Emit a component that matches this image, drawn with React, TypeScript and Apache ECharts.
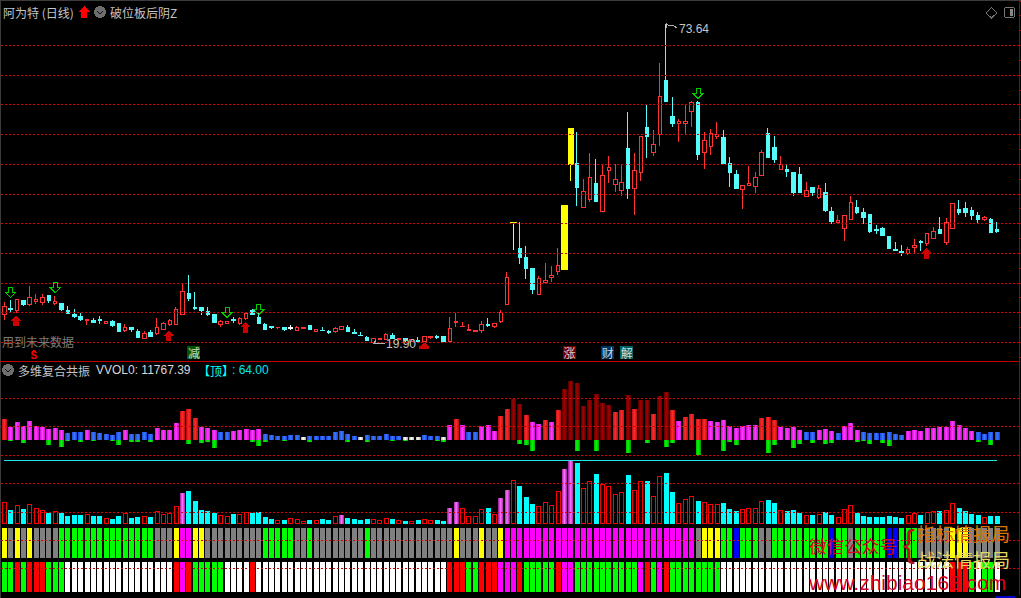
import React, { useEffect, useRef } from "react";
import * as echarts from "echarts";

const BAR_COUNT = 157;
const SLOT_COUNT = 160;
const categories = Array.from({ length: SLOT_COUNT }, (_, i) => String(i + 1));

const opens = [
  24.66,25.72,25.33,26.96,26.29,26.79,26.68,27.86,26.45,26.57,
  25.28,24.60,24.27,23.70,23.59,23.82,23.20,23.42,23.20,21.96,
  22.53,21.74,20.62,21.57,21.52,22.19,23.03,23.03,24.71,28.25,
  25.78,25.78,25.11,24.60,22.97,23.20,23.76,23.14,23.93,25.33,
  24.21,22.92,22.58,22.41,22.41,22.53,21.96,22.30,22.75,21.80,
  22.02,21.80,21.80,22.13,22.41,21.57,21.18,20.84,20.00,20.39,
  20.39,21.07,20.39,20.67,20.06,20.34,20.06,20.79,20.90,21.01,
  20.11,23.25,22.64,21.91,21.85,21.96,22.92,22.58,23.48,26.34,
  40.15,35.71,34.20,32.35,28.03,29.99,30.89,31.90,32.18,49.86,
  50.02,42.67,44.02,46.66,42.00,48.90,46.54,45.53,52.55,45.87,
  48.62,56.08,51.93,54.96,64.00,57.94,56.81,56.81,58.84,60.29,
  51.93,52.94,54.63,54.40,50.02,48.17,45.65,46.32,46.15,48.06,
  55.08,52.72,49.01,49.01,48.51,48.17,44.47,45.98,44.30,45.14,
  41.94,40.09,39.08,40.60,42.62,41.77,41.44,38.97,39.08,37.73,
  35.66,35.21,34.93,35.88,36.89,36.56,37.40,38.91,36.72,39.08,
  42.28,42.45,42.11,41.27,40.60,40.60,38.91,
];
const closes = [
  25.95,25.44,27.13,26.40,27.46,27.24,27.46,26.96,26.85,25.44,
  24.83,24.32,23.76,23.76,23.31,23.65,23.48,22.86,21.80,22.41,
  22.13,20.79,21.52,20.95,22.53,23.09,23.59,25.44,28.59,27.30,
  25.61,25.28,24.60,23.31,23.48,23.42,23.59,24.04,24.77,24.66,
  23.20,22.13,22.41,22.53,22.13,22.36,22.53,22.53,22.13,22.08,
  21.91,21.63,22.24,22.69,21.74,21.46,21.07,20.22,20.67,20.67,
  21.35,20.56,20.67,20.34,20.51,20.17,21.01,21.01,20.73,20.17,
  22.36,23.54,22.69,22.19,21.96,22.92,22.75,23.09,25.05,30.94,
  40.20,34.20,32.40,28.81,30.78,30.33,31.28,32.96,42.95,55.92,
  46.04,45.42,47.78,43.68,48.12,49.35,47.44,46.94,45.87,48.96,
  54.68,54.57,53.22,61.42,60.46,56.76,57.21,57.21,60.41,51.54,
  54.01,55.19,55.02,50.02,48.51,45.82,46.43,46.77,47.78,51.99,
  51.15,50.70,49.86,48.68,45.14,45.25,45.59,45.14,45.82,42.11,
  40.26,40.43,41.27,43.46,41.77,40.93,38.58,38.80,37.90,35.71,
  35.49,35.04,35.55,36.22,36.72,38.35,38.69,38.24,40.20,43.40,
  41.77,41.77,41.27,40.60,40.93,38.41,38.69,
];
const lows = [
  23.76,24.99,24.99,26.12,26.17,26.45,26.34,26.57,26.34,25.28,
  24.77,24.10,23.54,22.97,23.25,23.03,23.14,22.64,21.74,21.74,
  21.80,20.73,20.51,20.90,21.29,22.08,22.75,22.97,24.66,26.96,
  25.44,24.60,24.43,23.25,22.64,23.14,23.20,22.97,23.76,24.55,
  23.09,22.08,22.24,22.24,21.91,22.08,21.91,22.30,22.13,21.74,
  21.85,21.40,21.63,22.08,21.68,21.40,21.01,20.22,19.90,20.39,
  20.34,20.51,20.39,20.11,20.06,20.11,20.00,20.56,20.56,20.17,
  20.06,22.58,22.58,21.85,21.74,21.63,22.58,22.41,23.31,26.29,
  35.55,33.19,30.66,28.14,28.03,29.99,30.16,31.34,32.18,47.16,
  42.95,42.67,43.68,43.68,42.00,46.88,45.31,44.64,44.13,41.44,
  47.16,51.03,51.37,53.05,60.46,56.31,53.73,54.91,56.25,50.70,
  49.18,51.54,54.23,50.02,46.15,45.82,42.45,46.32,45.09,48.06,
  51.03,50.19,49.01,47.84,44.64,45.14,44.47,44.64,44.13,41.94,
  39.92,39.87,37.06,40.60,41.61,39.92,38.41,38.24,37.90,35.71,
  35.38,34.54,34.70,34.93,35.38,36.22,37.40,38.24,36.39,39.08,
  41.44,41.10,40.60,40.09,40.43,38.41,38.35,
];
const highs = [
  26.79,27.13,27.24,27.13,29.48,28.14,28.19,28.03,27.80,26.68,
  26.12,25.56,24.99,23.76,24.10,24.43,23.48,23.76,23.20,23.14,
  22.58,22.19,21.96,22.08,24.10,23.42,23.87,25.95,29.93,31.39,
  28.47,25.78,25.95,24.60,23.76,23.65,24.32,24.21,25.16,25.67,
  24.88,23.20,22.81,22.53,22.58,22.92,22.69,22.53,22.75,22.30,
  22.58,22.02,22.58,22.75,22.92,22.24,21.74,21.07,20.67,20.67,
  21.57,21.57,20.67,20.67,20.51,20.90,21.07,21.07,21.18,21.01,
  24.27,24.88,23.42,23.03,22.13,23.59,24.04,23.25,25.44,31.79,
  40.20,40.20,36.22,32.35,31.17,33.36,32.85,35.88,42.95,55.92,
  55.41,47.50,51.88,50.87,49.91,51.37,49.97,49.91,58.78,51.88,
  54.68,60.13,55.75,67.03,73.64,61.30,57.54,59.96,60.63,60.63,
  55.41,55.92,57.10,55.75,51.20,49.01,46.43,49.69,48.68,52.33,
  56.08,54.74,51.37,50.02,48.51,49.52,46.99,45.98,46.49,46.83,
  42.78,41.44,41.27,44.64,43.96,42.62,41.61,39.75,39.42,37.73,
  36.89,36.39,36.05,37.40,37.23,38.35,39.42,41.10,40.93,43.40,
  43.96,43.63,42.78,41.94,41.27,40.93,40.26,
];

const whiteCandles = [45];
const yellowCandles = [80, 88, 89];
const priceLevels = [20, 25, 30, 35, 40, 45, 50, 55, 60, 65, 70];
const priceTicks = [17.5,20,22.5,25,27.5,30,32.5,35,37.5,40,42.5,45,47.5,50,52.5,55,57.5,60,62.5,65,67.5,70,72.5,75,77.5];

const greenArrows: [number, number][] = [[1, 28.4], [8, 29.2], [35, 25.0], [40, 25.5], [109, 61.9]];
const redArrows: [number, number][] = [[2, 23.65], [26, 21.1], [38, 22.5], [145, 34.95]];
const redCaps: [number, number][] = [[66, 19.45]];
const chipBars = [30, 89, 95, 98];
const chipTexts = ["减", "涨", "财", "解"];
const chipFills = ["#006a00", "#8b0000", "#003f73", "#007a7a"];
const chipPrice = 18.2;

const oscUp = [
  21,13,18,14,19,14,13,11,12,10,
  7,8,8,10,8,7,6,5,8,10,
  6,6,8,6,12,10,10,17,29,31,
  22,13,12,10,8,8,9,10,11,10,
  11,6,5,4,4,5,5,3,4,4,
  4,4,8,9,6,4,3,5,4,4,
  6,4,4,3,3,3,5,4,4,3,
  15,21,15,8,8,14,15,9,24,31,
  41,36,25,18,16,20,18,30,51,59,
  57,34,40,46,37,35,28,30,45,31,
  40,40,26,44,48,30,19,23,26,21,
  21,19,18,20,14,12,14,15,15,22,
  23,20,13,12,13,10,8,8,10,11,
  9,7,14,17,10,8,7,7,7,8,
  6,5,9,10,9,12,12,13,13,19,
  15,12,9,8,6,8,8,
];
const oscKinds = [
  "RMMMMMMMMM","BBBMBBBBBM","BBBBMMMMRR","RMMMBBMMMM","MBBBBBBWBB",
  "BBBBBBWBBB","BBBWWWBBBW","MRMBBMMMRR","DDRMMRMRDD","DDDDDDRRDR",
  "DDRDDRMRRR","RMMMMMMMMR","RRMMMMBBMM","MBMMMBBBBB","BBMMMMMMMM","MMMBBBB",
].join("");
const oscDown = [
  0,1,0,3,0,0,0,5,0,7,
  1,0,2,0,1,0,0,1,5,0,
  2,2,0,2,0,0,0,0,0,4,
  0,3,2,8,0,0,0,0,0,2,
  6,2,0,0,1,0,0,0,2,0,
  0,0,0,0,2,0,0,2,0,0,
  0,1,0,1,0,0,0,0,1,2,
  0,0,0,0,0,0,0,0,0,0,
  0,4,5,11,0,0,0,0,0,0,
  11,0,0,11,0,0,0,0,13,0,
  0,3,0,0,7,3,0,0,0,15,
  0,0,0,11,2,5,0,0,0,0,
  13,5,0,0,8,4,0,3,0,4,
  3,0,0,0,2,1,4,0,3,6,
  0,0,0,0,0,0,0,0,0,0,
  0,0,0,2,0,5,0,
];

const volumes = [
  21.7,14,18.7,15,19.7,15.7,13.7,11,12.7,11,
  8,9,8.7,9.7,8,8,5.7,5,8,10.7,
  6,7,7.7,7,12.7,9.7,11,17.7,31,33,
  23,14,13,11,8.7,7.7,10,9.7,11.7,11,
  12,7,5,3.7,4,5.7,4.7,2.7,4,3.7,
  5,4,7.7,9,6,5,4,5,4.7,3.7,
  5.7,5,3.7,3,2.7,4,4.7,3.7,4,3,
  16,22,16,7.7,7.7,14.7,16,9.7,26,34,
  43.7,38,27,20,18,21.7,18.7,32.7,55,63,
  61,35.7,42.7,50,39.7,37.7,29.7,31.7,49,33.7,
  42.7,43,27.7,47.7,51,32,20.7,24.7,27.7,23,
  21.7,19.7,19.7,21,15,13,14.7,15.7,15.7,22.7,
  24,21,13.7,13,14,11,9,9,9.7,12,
  9,6.7,14.7,18.7,11,8,7,7,7,8,
  7,6,8.7,10.7,9,11.7,12.7,13,13.7,20.7,
  16,13,9.7,9,6.7,8,8,
];
const volumeKinds = [
  "HCHCHHHCHC","CCCHCCHCCH","CCHCHHHHMC","CCCCHHCHHC","CCCHCHHHCH",
  "CCHMCCCCHH","HCHCHCHHCC","MMHHHHCHMM","HCCCHHHHMM","CHHCHHHHCH",
  "HCHHCCHHHC","HHHCCCHHHH","CCHCCCHCHC","CHHHCCCCCC","CCHHCHHCHH","CCCCHCC",
].join("");
const topLevel = 64;
const lowerLevels = [42, 14, -15, -43, -72, -100, -128];

const stripOne = [
  "YAYAYAAAAG","GGGGGGGGGG","GGGGAAAYMM","YYAAAAAAAA","AGGGGGAAGA",
  "AAAAAAAGAA","AAAAAAAAAA","AYAAAYAAYM","MMMMMMMMMM","MMMMMMMMMM",
  "MMMMMMMMMA","YYYGGBGGGA","AGGGGGGGGG","BGGAGGGGGB","BGGGAAAAAY","YYAAAAA",
].join("");
const stripTwo = [
  "GGRGRRRGGG","WWWWWWWWWW","WWWWWWWRMR","GGGGGWWWWR","WWWWWWWWWW",
  "WWWWWWWWWW","WWWWWWWWWW","RRRGGRRRMM","MRGGGGGRMM","GGGGGGGGGG",
  "MRGMRGGGGG","GGGWWWWWWW","WWWWWWWWWW","WWWWWWWWWW","WWWWWWWWWR","RRGWGGW",
].join("");
const periodTicks = [16,22,28,33,39,44,50,55,61,66,70,75,80,85,89,94,98,104,109,114,119,124,130,135,141,156];

const stripColors: Record<string, string> = {
  G: "#00ff00", A: "#808080", Y: "#ffff00", M: "#ff00ff", B: "#0000ff", R: "#ff0000", W: "#ffffff",
};
const band = (edge: string, mid: string) => ({
  type: "linear", x: 0, y: 0, x2: 1, y2: 0,
  colorStops: [{ offset: 0, color: edge }, { offset: 0.5, color: mid }, { offset: 1, color: edge }],
});
const oscColors: Record<string, any> = {
  R: band("#c01010", "#ff2a2a"),
  M: band("#d010d0", "#ff3cff"),
  B: band("#1a48d8", "#3a78ff"),
  W: band("#a8a8a8", "#ffffff"),
  D: band("#560000", "#a80000"),
};

const FONT = '"Noto Sans CJK SC", "Liberation Sans", sans-serif';
const LATIN = '"Liberation Sans", "Noto Sans CJK SC", sans-serif';
const GREY = "#c4c4c4";
const LEFT = 1.1;
const PITCH = 6.365;
const DOT = "#d80000";

const UP_ARROW = "path://M5 0 L10 5 L7.4 5 L7.4 10 L2.6 10 L2.6 5 L0 5 Z";
const DOWN_ARROW = "path://M3 0 L7 0 L7 5 L10 5 L5 10 L0 5 L3 5 Z";
const CAP = "path://M5 0 L10 4 L10 6 L0 6 L0 4 Z";

const txt = (text: string, x: number, y: number, fill: string, font: string, extra: any = {}) => ({
  type: "text", silent: true, z: 20,
  style: { text, x, y, fill, font, textVerticalAlign: "middle", ...extra },
});

const chevron = (cx: number, cy: number) => [
  { type: "circle", silent: true, z: 20, shape: { cx, cy, r: 6 }, style: { fill: "#6e6e6e" } },
  { type: "polyline", silent: true, z: 21, shape: { points: [[cx - 3, cy - 1], [cx, cy + 2], [cx + 3, cy - 1]] }, style: { stroke: "#111", lineWidth: 1.4, fill: "none" } },
];

export default function App() {
  const ref = useRef<HTMLDivElement>(null);
  useEffect(() => {
    document.body.style.margin = "0";
    document.body.style.background = "#000";
    document.documentElement.style.overflow = "hidden";
    const chart = echarts.init(ref.current!, undefined, { renderer: "svg" });
    const candles = opens.map((o, i) => [o, closes[i], lows[i], highs[i]]);
    const hiddenAxis = (gridIndex: number, extra: any = {}) => ({
      type: "value", gridIndex, show: false, splitLine: { show: false }, ...extra,
    });
    const xAxisFor = (gridIndex: number, extra: any = {}) => ({
      type: "category", gridIndex, data: categories, show: false, boundaryGap: true, ...extra,
    });
    const grid = (top: number, height: number) => ({
      left: LEFT, width: PITCH * SLOT_COUNT, top, height, containLabel: false, show: false,
    });
    const redAxis = { show: true, onZero: false, lineStyle: { color: "#a80000", width: 1 } };
    const noText = { show: false };

    chart.setOption({
      animation: false,
      backgroundColor: "#000",
      grid: [grid(0, 361), grid(361, 234), grid(450, 74), grid(528, 30), grid(562, 30), grid(595, 3)],
      xAxis: [
        xAxisFor(0), xAxisFor(1), xAxisFor(2), xAxisFor(3), xAxisFor(4),
        xAxisFor(5, {
          show: true, position: "top",
          axisLine: { show: true, lineStyle: { color: "#c00000", width: 1 } },
          axisLabel: noText,
          axisTick: { show: true, inside: true, length: 3, customValues: periodTicks, lineStyle: { color: "#c00000" } },
        }),
      ],
      yAxis: [
        {
          type: "value", gridIndex: 0, position: "right", min: 16.85, max: 77.63, scale: true,
          splitLine: { show: false }, axisLine: redAxis, axisLabel: noText,
          axisTick: { show: true, length: 2, customValues: priceTicks, lineStyle: { color: "#a80000" } },
        },
        {
          type: "value", gridIndex: 1, position: "right", min: -155, max: 79,
          splitLine: { show: false }, axisLine: redAxis, axisLabel: noText, axisTick: { show: false },
        },
        hiddenAxis(2, { min: 0, max: 74 }),
        hiddenAxis(3, { min: 0, max: 1 }),
        hiddenAxis(4, { min: 0, max: 1 }),
        hiddenAxis(5, { min: 0, max: 1 }),
      ],
      series: [
        {
          name: "K线", type: "candlestick", xAxisIndex: 0, yAxisIndex: 0, barWidth: 4, z: 3,
          itemStyle: { color: "#000", color0: "#54fcfc", borderColor: "#ff3232", borderColor0: "#54fcfc", borderWidth: 1 },
          data: candles.map((c, i) =>
            whiteCandles.includes(i)
              ? { value: c, itemStyle: { color0: "#fff", borderColor0: "#fff", color: "#fff", borderColor: "#fff" } }
              : c,
          ),
          markLine: {
            silent: true, symbol: "none", label: { show: false }, animation: false,
            lineStyle: { color: DOT, type: [1.6, 2.4], width: 1, opacity: 1 },
            data: priceLevels.map((v) => ({ yAxis: v })),
          },
        },
        {
          name: "破位板", type: "candlestick", xAxisIndex: 0, yAxisIndex: 0, barWidth: 6, z: 4,
          itemStyle: { color: "#ffff00", color0: "#ffff00", borderColor: "#ffff00", borderColor0: "#ffff00", borderWidth: 1 },
          data: candles.map((c, i) => (yellowCandles.includes(i) ? c : ["-", "-", "-", "-"])),
        },
        {
          name: "卖出", type: "scatter", xAxisIndex: 0, yAxisIndex: 0, z: 6,
          symbol: DOWN_ARROW, symbolSize: [10, 10],
          itemStyle: { color: "rgba(0,0,0,0)", borderColor: "#00ff00", borderWidth: 1 },
          data: greenArrows,
        },
        {
          name: "买入", type: "scatter", xAxisIndex: 0, yAxisIndex: 0, z: 6,
          symbol: UP_ARROW, symbolSize: [11, 11], symbolOffset: [-1, 0], itemStyle: { color: "#ff0000" },
          data: redArrows,
        },
        {
          name: "底", type: "scatter", xAxisIndex: 0, yAxisIndex: 0, z: 6,
          symbol: CAP, symbolSize: [10, 6], itemStyle: { color: "#ff0000" },
          data: redCaps,
        },
        {
          name: "信号", type: "scatter", xAxisIndex: 0, yAxisIndex: 0, z: 6,
          symbol: "rect", symbolSize: [13, 13], symbolOffset: [-1.3, 0],
          data: chipBars.map((b, i) => ({
            value: [b, chipPrice],
            itemStyle: { color: chipFills[i] },
            label: {
              show: true, position: "inside", formatter: chipTexts[i], color: "#fff",
              fontFamily: FONT, fontSize: 12, lineHeight: 13,
            },
          })),
        },
        {
          name: "多维", type: "bar", xAxisIndex: 1, yAxisIndex: 1, barWidth: 5, barGap: "-100%", z: 2,
          data: oscUp.map((v, i) => ({ value: v, itemStyle: { color: oscColors[oscKinds[i]] } })),
          markLine: {
            silent: true, symbol: "none", label: { show: false }, animation: false,
            lineStyle: { color: DOT, type: [1.6, 2.4], width: 1, opacity: 1 },
            data: lowerLevels.map((v) => ({ yAxis: v })),
          },
        },
        {
          name: "共振", type: "bar", xAxisIndex: 1, yAxisIndex: 1, barWidth: 5, barGap: "-100%", z: 2,
          itemStyle: { color: band("#00a800", "#00ff00") },
          data: oscDown.map((v) => (v === 0 ? null : -v)),
        },
        {
          name: "VVOL0", type: "bar", xAxisIndex: 2, yAxisIndex: 2, barWidth: 5, z: 2,
          data: volumes.map((v, i) => {
            const k = volumeKinds[i];
            const itemStyle =
              k === "H" ? { color: "rgba(0,0,0,0)", borderColor: "#ff0000", borderWidth: 1 }
              : k === "C" ? { color: "#00ffff" }
              : { color: band("#a020a0", "#ff70ff") };
            return { value: v, itemStyle };
          }),
        },
        {
          name: "顶", type: "line", xAxisIndex: 2, yAxisIndex: 2, symbol: "none", z: 3,
          lineStyle: { color: "#20e6e6", width: 1 },
          data: Array.from({ length: BAR_COUNT }, () => topLevel),
        },
        {
          name: "强弱一", type: "bar", xAxisIndex: 3, yAxisIndex: 3, barWidth: 5, z: 2,
          data: stripOne.split("").map((k) => ({ value: 1, itemStyle: { color: stripColors[k] } })),
        },
        {
          name: "强弱二", type: "bar", xAxisIndex: 4, yAxisIndex: 4, barWidth: 5, z: 2,
          data: stripTwo.split("").map((k) => ({ value: 1, itemStyle: { color: stripColors[k] } })),
        },
      ],
      graphic: [
        { type: "rect", silent: true, z: 19, shape: { x: 0, y: 0, width: 1, height: 598 }, style: { fill: "#3c3c3c" } },
        { type: "rect", silent: true, z: 19, shape: { x: 0, y: 0, width: 1021, height: 1 }, style: { fill: "#3c3c3c" } },
        { type: "rect", silent: true, z: 19, shape: { x: 0, y: 361, width: 1020, height: 1 }, style: { fill: "#c00000" } },
        { type: "rect", silent: true, z: 19, shape: { x: 995, y: 596, width: 20, height: 2 }, style: { fill: "#0000c8" } },
        txt("阿为特 (日线)", 3, 12, GREY, `12px ${FONT}`),
        { type: "polygon", silent: true, z: 20, shape: { points: [[84, 6], [90, 12], [87, 12], [87, 18], [81, 18], [81, 12], [78, 12]] }, style: { fill: "#ff0000" } },
        ...chevron(100, 12),
        txt("破位板后阴Z", 110, 12, GREY, `12px ${FONT}`),
        { type: "polygon", silent: true, z: 20, shape: { points: [[991.5, 7.5], [997, 13], [991.5, 18], [986, 13]] }, style: { fill: "none", stroke: "#777", lineWidth: 1 } },
        { type: "rect", silent: true, z: 20, shape: { x: 1004.5, y: 7.5, width: 10, height: 10, r: 2 }, style: { fill: "none", stroke: "#777", lineWidth: 1 } },
        { type: "rect", silent: true, z: 20, shape: { x: 1010, y: 9, width: 3, height: 7 }, style: { fill: "#888" } },
        ...chevron(8, 370),
        txt("多维复合共振", 18, 370, GREY, `12px ${FONT}`),
        txt("VVOL0: 11767.39", 96, 370, "#d8d8d8", `12px ${LATIN}`),
        txt("【顶】", 198, 370, "#00ffff", `12px ${FONT}`),
        txt(": 64.00", 232, 370, "#00e8e8", `12px ${LATIN}`),
        txt("用到未来数据", 2, 341, "#7c7c7c", `12px ${FONT}`),
        { type: "polyline", silent: true, z: 20, shape: { points: [[666, 24], [670, 26], [673, 25], [677, 28]] }, style: { stroke: "#b0b0b0", lineWidth: 1, fill: "none" } },
        { type: "polyline", silent: true, z: 20, shape: { points: [[666, 23], [666, 28]] }, style: { stroke: "#b0b0b0", lineWidth: 1, fill: "none" } },
        txt("73.64", 679, 29, GREY, `12px ${LATIN}`),
        { type: "polyline", silent: true, z: 20, shape: { points: [[376, 340], [373.5, 343.5], [385, 343.5]] }, style: { stroke: "#b0b0b0", lineWidth: 1, fill: "none" } },
        txt("19.90", 386, 344, GREY, `12px ${LATIN}`),
        { type: "polygon", silent: true, z: 20, shape: { points: [[33.5, 349.5], [36, 352], [31, 352]] }, style: { fill: "#ff0000" } },
        txt("S", 30.5, 355.5, "#ff0000", `bold 10px ${LATIN}`),
        txt("微信公众号", 809, 545, "#d80020", `17.6px ${FONT}`),
        txt("{", 903, 543, "#b81020", `36px ${LATIN}`),
        txt("指标情报局", 917, 532, "#d87400", `18.6px ${FONT}`),
        txt("战法情报局", 917, 558, "#e4d860", `18.6px ${FONT}`),
        txt("www.zhibiao168.com", 809, 582, "#d80020", `21px ${LATIN}`),
      ],
    });
    return () => chart.dispose();
  }, []);
  return (
    <div
      ref={ref}
      style={{ position: "fixed", left: 0, top: 0, width: 1021, height: 598, background: "#000", shapeRendering: "crispEdges" } as any}
    />
  );
}
